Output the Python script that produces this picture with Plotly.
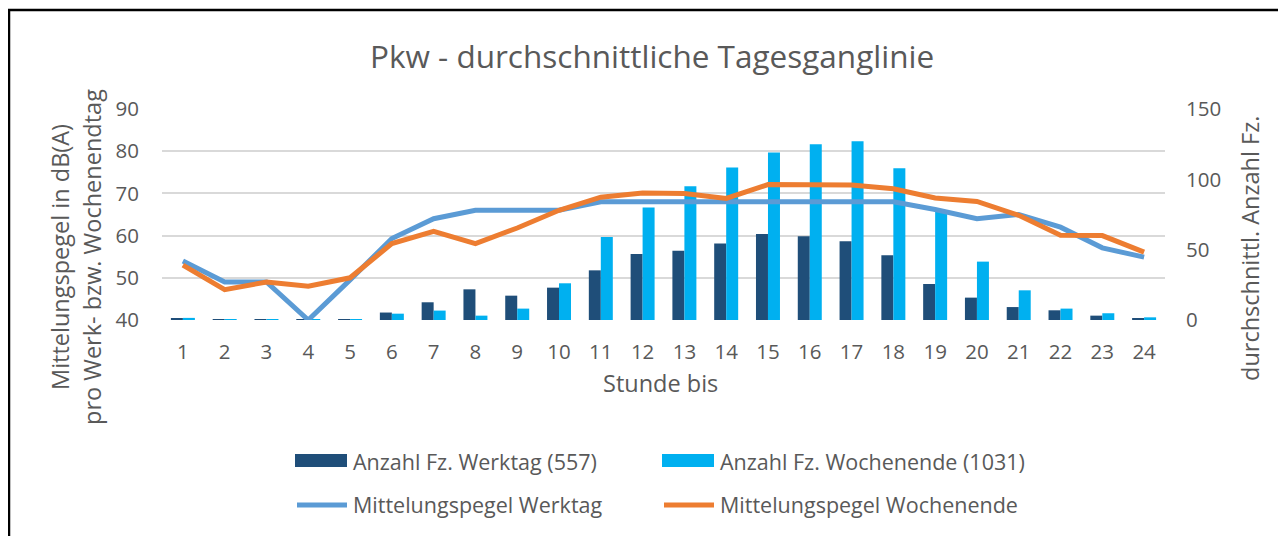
import plotly.graph_objects as go

hours = ["1", "2", "3", "4", "5", "6", "7", "8", "9", "10", "11", "12",
         "13", "14", "15", "16", "17", "18", "19", "20", "21", "22", "23", "24"]

anzahl_werktag = [1.2, 0.2, 0.2, 0.2, 0.2, 5.3, 12.6, 21.8, 17.3, 23.0, 35.3, 46.9,
                  49.3, 54.3, 61.1, 59.5, 55.9, 46.0, 25.6, 15.9, 9.2, 6.9, 3.1, 1.2]
anzahl_wochenende = [1.5, 0.2, 0.2, 0.1, 0.1, 4.5, 6.7, 3.1, 8.1, 26.1, 59.0, 79.9,
                     95.0, 108.5, 119.0, 124.9, 127.0, 107.8, 76.8, 41.5, 21.1, 8.1, 4.8, 1.9]
pegel_werktag = [54, 49, 49, 40, 49.5, 59.3, 64, 66, 66, 66, 68, 68,
                 68, 68, 68, 68, 68, 68, 66.2, 64, 65, 62, 57.1, 54.9]
pegel_wochenende = [53, 47.2, 49, 48, 50, 58.1, 61, 58.1, 61.8, 66, 69.1, 70.1,
                    70, 68.8, 72.1, 72.1, 72, 71.1, 68.9, 68.1, 64.8, 60.1, 60, 56.1]

names = ["Anzahl Fz. Werktag (557)", "Anzahl Fz. Wochenende (1031)",
         "Mittelungspegel Werktag", "Mittelungspegel Wochenende"]
colors = ["#1F4E79", "#00B0F0", "#5B9BD5", "#ED7D31"]

W, H = 1286, 536
OFF = 8  # page body margin offset in the screenshot
# desired plot area on screen: x 162..1165, y 109..320
L = 162 - OFF
R = W + OFF - 1165
T = 109 - OFF
B = H + OFF - 320
PW, PH = W - L - R, H - T - B
TXT = "#595959"
FONT = "Open Sans"


def px(x):
    """screen x pixel -> paper coordinate"""
    return (x - OFF - L) / PW


def py(y):
    """screen y pixel -> paper coordinate"""
    return (H - B - (y - OFF)) / PH


fig = go.Figure()
fig.add_trace(go.Bar(x=hours, y=anzahl_werktag, name=names[0], marker_color=colors[0],
                     marker_line_width=0, yaxis="y", showlegend=False))
fig.add_trace(go.Bar(x=hours, y=anzahl_wochenende, name=names[1], marker_color=colors[1],
                     marker_line_width=0, yaxis="y", showlegend=False))
fig.add_trace(go.Scatter(x=hours, y=pegel_werktag, name=names[2], mode="lines",
                         line=dict(color=colors[2], width=5), yaxis="y2", showlegend=False))
fig.add_trace(go.Scatter(x=hours, y=pegel_wochenende, name=names[3], mode="lines",
                         line=dict(color=colors[3], width=5), yaxis="y2", showlegend=False))

tickfont = dict(family=FONT, size=20.5, color=TXT)

fig.update_layout(
    width=W, height=H,
    margin=dict(l=L, r=R, t=T, b=B),
    paper_bgcolor="white", plot_bgcolor="rgba(0,0,0,0)",
    barmode="group", bargap=0.426, bargroupgap=0,
    xaxis=dict(type="category", showgrid=False, zeroline=False, showline=False,
               ticks="", tickfont=tickfont, ticklabelstandoff=17),
    yaxis=dict(side="right", range=[0, 150], dtick=50, showgrid=False, zeroline=False,
               showline=False, ticks="", tickfont=tickfont, ticklabelstandoff=20),
    yaxis2=dict(side="left", overlaying="y", range=[40, 90], dtick=10, showgrid=True,
                gridcolor="#D9D9D9", gridwidth=1.5, zeroline=False, showline=False,
                ticks="", tickfont=tickfont, ticklabelstandoff=22),
    font=dict(family=FONT, color=TXT),
)

ann = []
ann.append(dict(text="Pkw - durchschnittliche Tagesganglinie", x=px(652), y=py(56),
                font=dict(family=FONT, size=31.5, color=TXT), textangle=0))
ann.append(dict(text="Stunde bis", x=px(660), y=py(383),
                font=dict(family=FONT, size=23.5, color=TXT), textangle=0))
ann.append(dict(text="Mittelungspegel in dB(A)", x=px(60), y=py(257),
                font=dict(family=FONT, size=23.5, color=TXT), textangle=-90))
ann.append(dict(text="pro Werk- bzw. Wochenendtag", x=px(92), y=py(257),
                font=dict(family=FONT, size=23.5, color=TXT), textangle=-90))
ann.append(dict(text="durchschnittl. Anzahl Fz.", x=px(1250), y=py(249),
                font=dict(family=FONT, size=23.5, color=TXT), textangle=-90))
for a in ann:
    a.update(xref="paper", yref="paper", showarrow=False, xanchor="center", yanchor="middle")

# legend (drawn manually with shapes + text)
shapes = []
leg = [(295, 461, 0, "bar"), (662, 461, 1, "bar"), (295, 505, 2, "line"), (662, 505, 3, "line")]
for x0, yc, i, kind in leg:
    if kind == "bar":
        shapes.append(dict(type="rect", xref="paper", yref="paper",
                           x0=px(x0), x1=px(x0 + 52), y0=py(yc - 7), y1=py(yc + 6),
                           fillcolor=colors[i], line=dict(width=0)))
    else:
        shapes.append(dict(type="line", xref="paper", yref="paper",
                           x0=px(x0 + 2), x1=px(x0 + 52), y0=py(yc), y1=py(yc),
                           line=dict(color=colors[i], width=5)))
    ann.append(dict(text=names[i], x=px(x0 + 56), y=py(yc), xref="paper", yref="paper",
                    showarrow=False, xanchor="left", yanchor="middle",
                    font=dict(family=FONT, size=21.5, color=TXT)))

# outer chart border
shapes.append(dict(type="rect", xref="paper", yref="paper",
                   x0=px(9), x1=px(1300), y0=py(560), y1=py(10),
                   line=dict(color="black", width=2.5), fillcolor="rgba(0,0,0,0)", layer="below"))

fig.update_layout(annotations=ann, shapes=shapes)
fig.write_html("out.html")
